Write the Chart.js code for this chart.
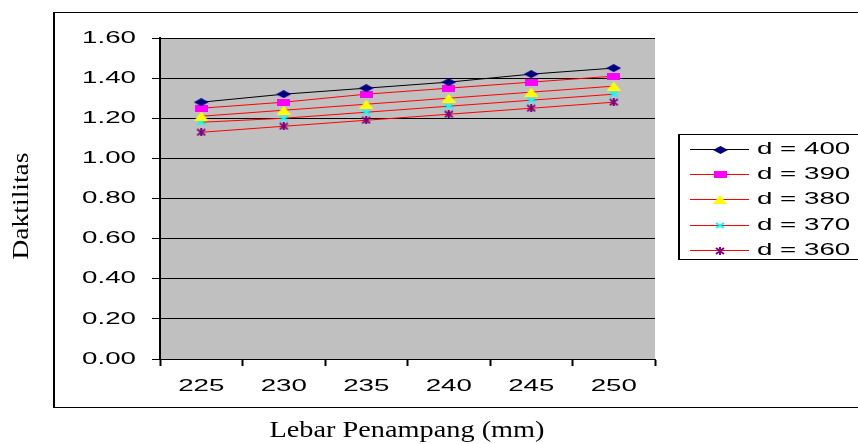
<!DOCTYPE html>
<html>
<head>
<meta charset="utf-8">
<script src="https://cdn.jsdelivr.net/npm/chart.js@4/dist/chart.umd.min.js"></script>
<style>
  html, body { margin: 0; padding: 0; background: #fff; }
  #chart { display: block; }
</style>
</head>
<body>
<canvas id="chart" width="858" height="444"></canvas>
<script>
// Section widths (mm) along the category axis
const widths = ['225', '230', '235', '240', '245', '250'];

// Effective depth d of each series
const depths = [400, 390, 380, 370, 360];

// Ductility values per depth
const d400 = [1.28, 1.32, 1.35, 1.38, 1.42, 1.45];
const d390 = [1.25, 1.28, 1.32, 1.35, 1.38, 1.41];
const d380 = [1.21, 1.24, 1.27, 1.30, 1.33, 1.36];
const d370 = [1.18, 1.20, 1.23, 1.26, 1.29, 1.32];
const d360 = [1.13, 1.16, 1.19, 1.22, 1.25, 1.28];

// Value axis range
const yMin = 0, yMax = 1.6, yStep = 0.2;

const TEXT_STRETCH = 1.63;
const TICK_FONT = '17px "Liberation Sans", Arial, sans-serif';
const TITLE_FONT = '24px "Liberation Serif", "Times New Roman", serif';

// Marker images, drawn wide and flat
function marker(w, h, paint) {
  const c = document.createElement('canvas');
  c.width = w; c.height = h;
  const g = c.getContext('2d');
  paint(g, w, h);
  return c;
}
const diamond = marker(15, 8, (g, w, h) => {
  g.fillStyle = '#000080';
  g.beginPath(); g.moveTo(0, h / 2); g.lineTo(w / 2, 0); g.lineTo(w, h / 2); g.lineTo(w / 2, h); g.closePath(); g.fill();
});
const square = marker(13, 7, (g, w, h) => {
  g.fillStyle = '#FF00FF'; g.fillRect(0, 0, w, h);
});
const triangle = marker(14, 9, (g, w, h) => {
  g.fillStyle = '#FFFF00';
  g.beginPath(); g.moveTo(0, h); g.lineTo(w / 2, 0); g.lineTo(w, h); g.closePath(); g.fill();
});
const cross = marker(10, 7, (g, w, h) => {
  g.strokeStyle = '#00FFFF'; g.lineWidth = 2;
  g.beginPath(); g.moveTo(1, 1); g.lineTo(w - 1, h - 1); g.moveTo(w - 1, 1); g.lineTo(1, h - 1); g.stroke();
});
const star = marker(10, 8, (g, w, h) => {
  g.strokeStyle = '#800080'; g.lineWidth = 2;
  g.beginPath();
  g.moveTo(1, 1); g.lineTo(w - 1, h - 1); g.moveTo(w - 1, 1); g.lineTo(1, h - 1);
  g.moveTo(w / 2, 0); g.lineTo(w / 2, h);
  g.stroke();
});

function wideText(ctx, text, x, y, align, sx, font) {
  ctx.save();
  ctx.font = font;
  ctx.fillStyle = '#000';
  ctx.textBaseline = 'middle';
  ctx.textAlign = 'left';
  const w = ctx.measureText(text).width * sx;
  const x0 = align === 'right' ? x - w : align === 'center' ? x - w / 2 : x;
  ctx.translate(x0, y);
  ctx.scale(sx, 1);
  ctx.fillText(text, 0, 0);
  ctx.restore();
}

// Gray plotting area and outer frame
const framePlugin = {
  id: 'frame',
  beforeDraw(chart) {
    const { ctx, chartArea: a } = chart;
    ctx.save();
    ctx.fillStyle = '#fff';
    ctx.fillRect(0, 0, chart.width, chart.height);
    ctx.strokeStyle = '#000';
    ctx.lineWidth = 1;
    ctx.beginPath();
    ctx.moveTo(53, 12.5); ctx.lineTo(chart.width + 2, 12.5);
    ctx.moveTo(53, 407.5); ctx.lineTo(chart.width + 2, 407.5);
    ctx.stroke();
    ctx.lineWidth = 2;
    ctx.beginPath(); ctx.moveTo(54, 12); ctx.lineTo(54, 408); ctx.stroke();
    ctx.fillStyle = '#C0C0C0';
    ctx.fillRect(a.left, a.top, a.right - a.left, a.bottom - a.top);
    ctx.restore();
  }
};

// Tick labels, axis titles and legend box
const labelsPlugin = {
  id: 'labels',
  afterDraw(chart) {
    const { ctx } = chart;
    const xs = chart.scales.x, ys = chart.scales.y;

    ys.ticks.forEach((t, i) => {
      wideText(ctx, Number(t.value).toFixed(2), 136, ys.getPixelForTick(i), 'right', TEXT_STRETCH, TICK_FONT);
    });
    xs.ticks.forEach((t, i) => {
      wideText(ctx, xs.getLabelForValue(t.value), xs.getPixelForTick(i), 386, 'center', TEXT_STRETCH, TICK_FONT);
    });

    // axis titles
    ctx.save();
    ctx.font = TITLE_FONT;
    const xt = 'Lebar Penampang (mm)';
    wideText(ctx, xt, 407, 431, 'center', 275 / ctx.measureText(xt).width, TITLE_FONT);
    const yt = 'Daktilitas';
    const ysx = 107 / ctx.measureText(yt).width;
    ctx.translate(22, 206);
    ctx.rotate(-Math.PI / 2);
    wideText(ctx, yt, 0, 0, 'center', ysx, TITLE_FONT);
    ctx.restore();

    // legend
    ctx.save();
    ctx.strokeStyle = '#000';
    ctx.lineWidth = 1;
    ctx.beginPath();
    ctx.moveTo(678, 134.5); ctx.lineTo(chart.width + 2, 134.5);
    ctx.moveTo(678, 259.5); ctx.lineTo(chart.width + 2, 259.5);
    ctx.stroke();
    ctx.lineWidth = 2;
    ctx.beginPath(); ctx.moveTo(679, 134); ctx.lineTo(679, 260); ctx.stroke();
    chart.data.datasets.forEach((ds, i) => {
      const y = Math.round(149 + i * 25.2) + 0.5;
      ctx.strokeStyle = ds.borderColor;
      ctx.lineWidth = 1;
      ctx.beginPath(); ctx.moveTo(690, y); ctx.lineTo(749, y); ctx.stroke();
      const img = ds.pointStyle;
      ctx.drawImage(img, Math.round(720 - img.width / 2), Math.round(y - img.height / 2));
      wideText(ctx, ds.label, 757, y, 'left', TEXT_STRETCH, TICK_FONT);
    });
    ctx.restore();
  }
};

const series = [
  { d: depths[0], values: d400, line: '#000000', style: diamond },
  { d: depths[1], values: d390, line: '#FF0000', style: square },
  { d: depths[2], values: d380, line: '#FF0000', style: triangle },
  { d: depths[3], values: d370, line: '#FF0000', style: cross },
  { d: depths[4], values: d360, line: '#FF0000', style: star }
];

new Chart(document.getElementById('chart'), {
  type: 'line',
  data: {
    labels: widths,
    datasets: series.map(s => ({
      label: 'd = ' + s.d,
      data: s.values,
      borderColor: s.line,
      borderWidth: 1,
      pointStyle: s.style,
      pointRadius: 5,
      pointHoverRadius: 5,
      tension: 0,
      fill: false
    }))
  },
  options: {
    responsive: false,
    devicePixelRatio: 1,
    animation: false,
    events: [],
    layout: { padding: { left: 60, top: 38, right: 203, bottom: 35 } },
    plugins: { legend: { display: false }, tooltip: { enabled: false } },
    scales: {
      x: {
        type: 'category',
        offset: true,
        grid: {
          offset: true,
          drawOnChartArea: false,
          drawTicks: true,
          tickLength: 7,
          tickColor: '#000',
          tickWidth: 2,
          color: '#000'
        },
        border: { display: true, color: '#000', width: 1 },
        ticks: { display: false },
        afterFit(scale) { scale.height = 50; }
      },
      y: {
        min: yMin,
        max: yMax,
        grid: {
          color: '#000',
          lineWidth: 1,
          drawTicks: true,
          tickLength: 8,
          tickColor: '#000'
        },
        border: { display: true, color: '#000', width: 2 },
        ticks: { display: false, stepSize: yStep },
        afterFit(scale) { scale.width = 100; }
      }
    }
  },
  plugins: [framePlugin, labelsPlugin]
});
</script>
</body>
</html>
